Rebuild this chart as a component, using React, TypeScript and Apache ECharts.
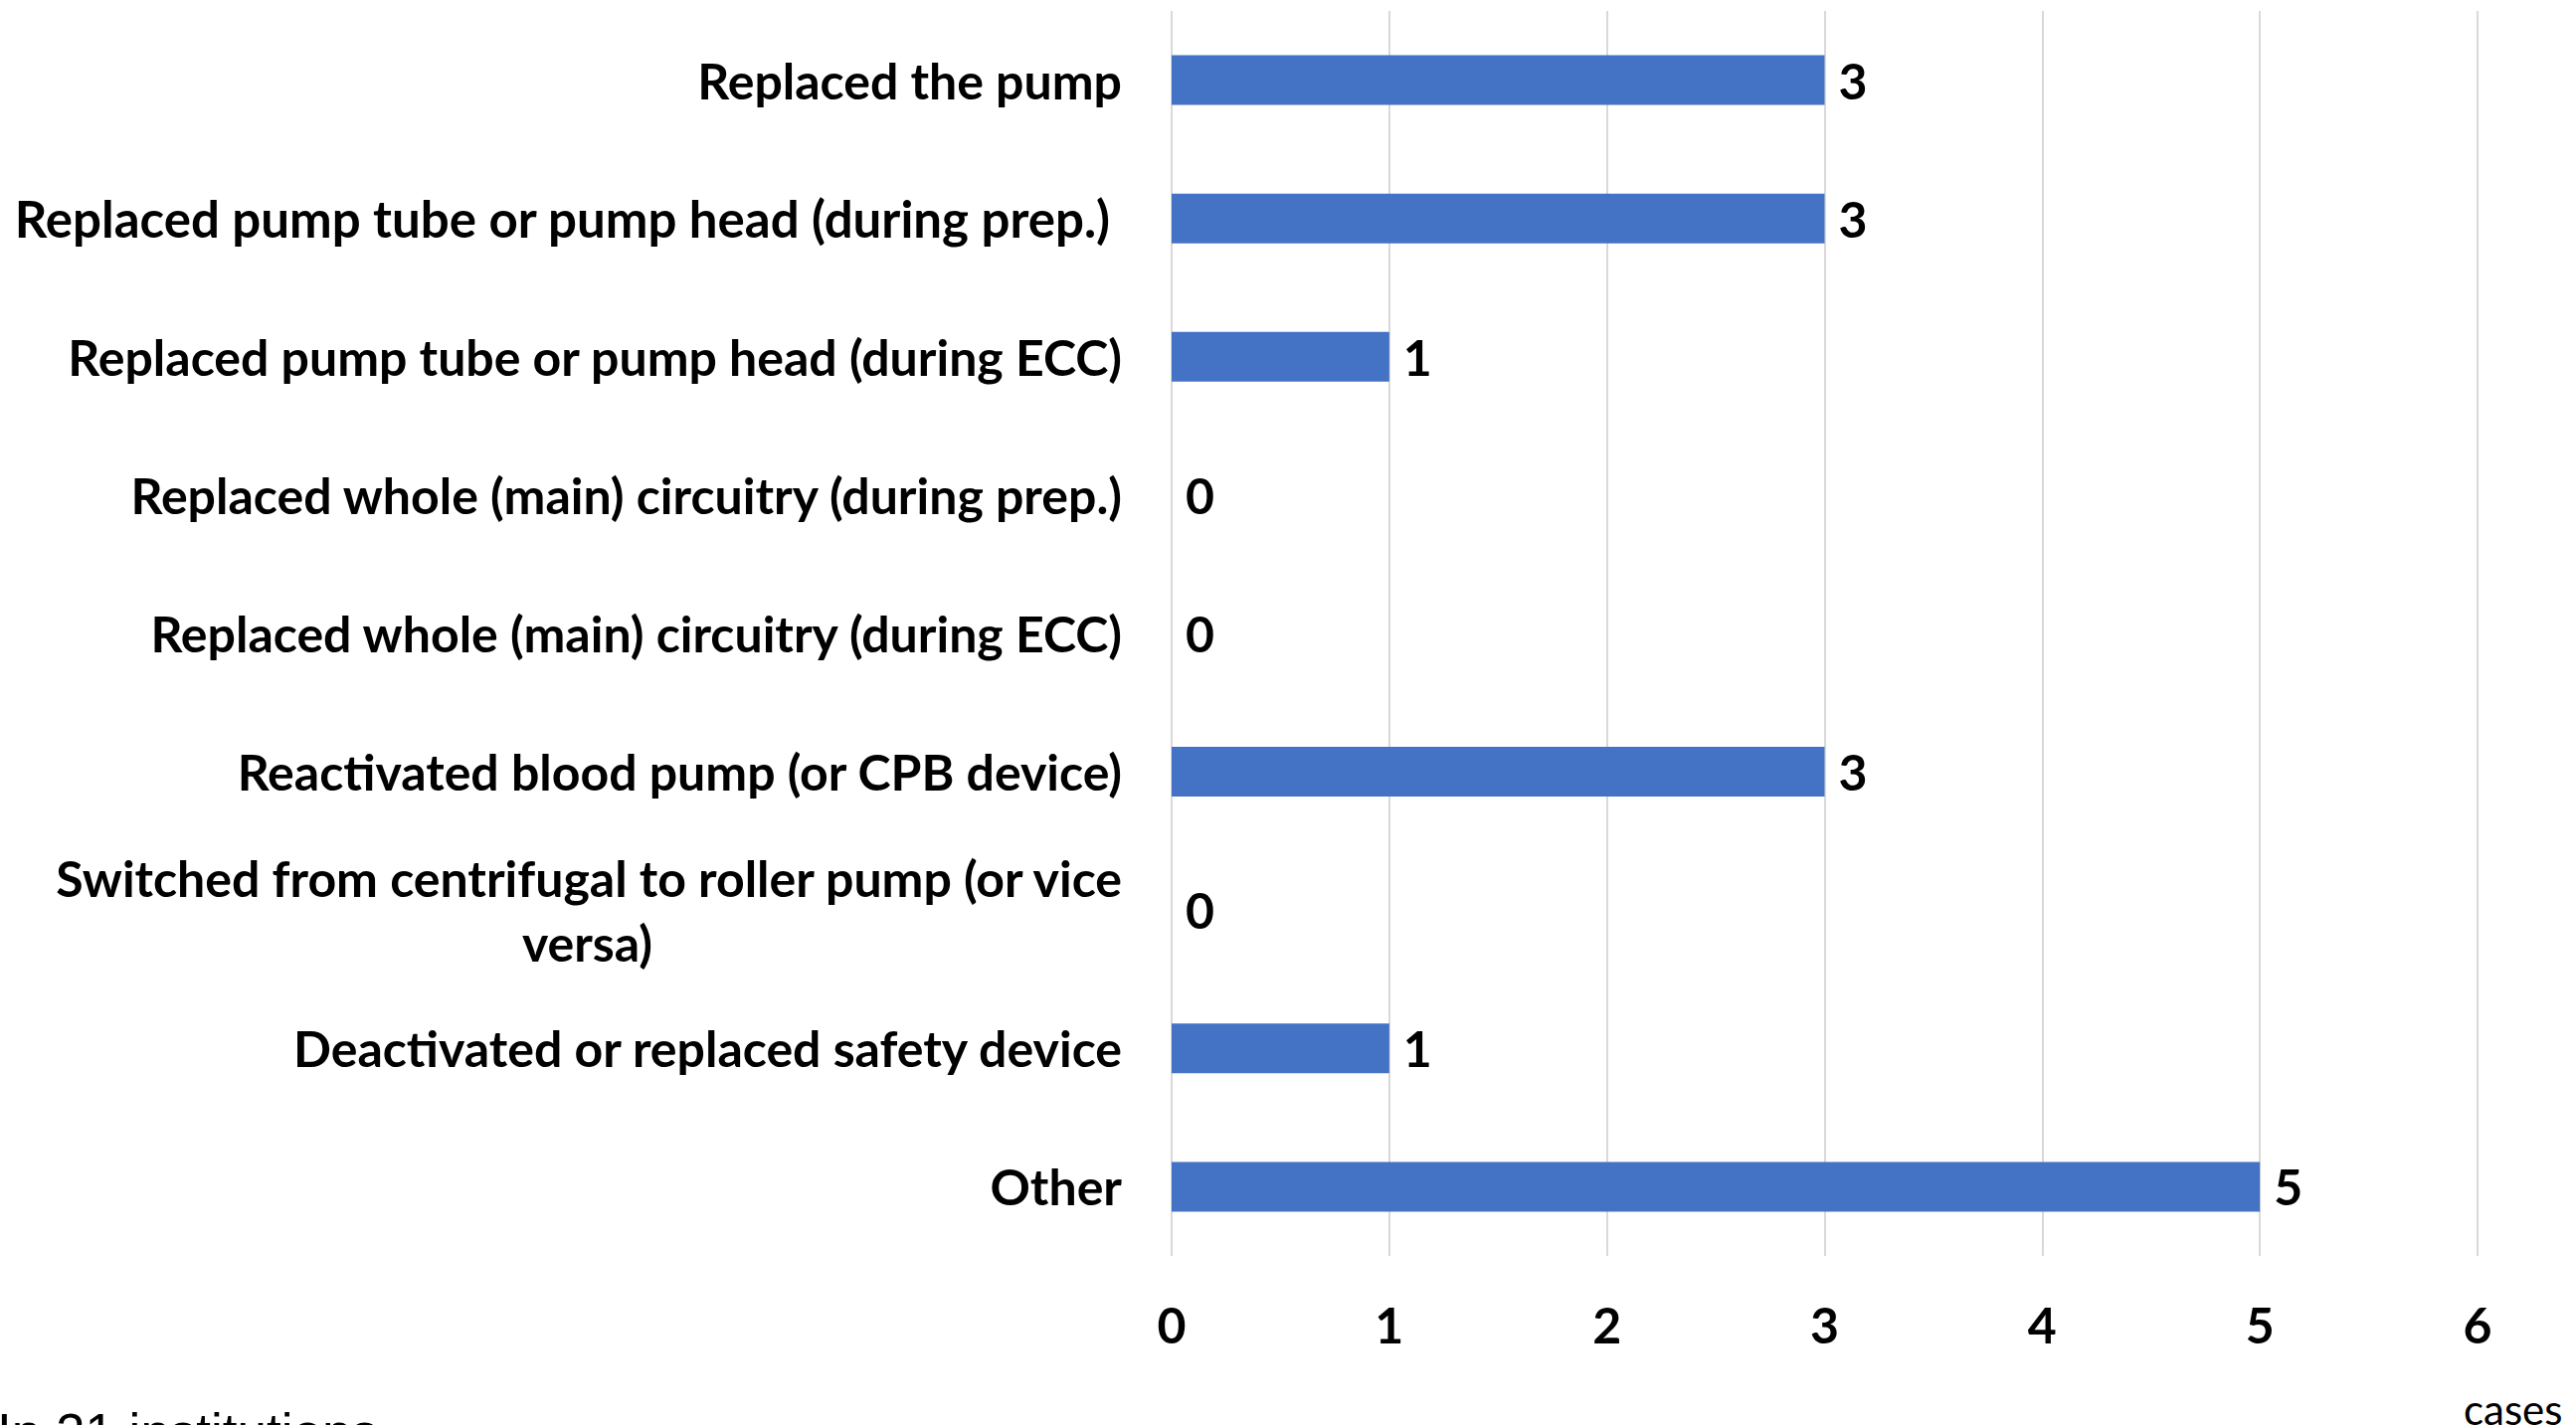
import React, { useEffect, useRef } from "react";
import * as echarts from "echarts";

const categories = [
  "Replaced the pump",
  "Replaced pump tube or pump head (during prep.)",
  "Replaced pump tube or pump head (during ECC)",
  "Replaced whole (main) circuitry (during prep.)",
  "Replaced whole (main) circuitry (during ECC)",
  "Reactivated blood pump (or CPB device)",
  "Switched from centrifugal to roller pump (or vice versa)",
  "Deactivated or replaced safety device",
  "Other",
];
const caseCounts = [3, 3, 1, 0, 0, 3, 0, 1, 5];
const xMin = 0;
const xMax = 6;
const xInterval = 1;
const footnote = "In 21 institutions";
const unitLabel = "cases";

const FONT = "Lato, 'Open Sans', sans-serif";
const FS = 50;

export default function App() {
  const ref = useRef<HTMLDivElement>(null);
  useEffect(() => {
    document.body.style.margin = "0";
    const chart = echarts.init(ref.current!, null, { renderer: "svg" });
    const base = { fontFamily: FONT, fontSize: FS, fontWeight: "bold", color: "#000" };
    chart.setOption({
      animation: false,
      backgroundColor: "#fff",
      grid: { left: 1178, right: 99, top: 11, bottom: 170, containLabel: false },
      xAxis: {
        type: "value",
        min: xMin,
        max: xMax,
        interval: xInterval,
        axisLine: { show: false },
        axisTick: { show: false },
        splitLine: { show: true, lineStyle: { color: "#d9d9d9", width: 2 } },
        axisLabel: { ...base, margin: 44 },
      },
      yAxis: {
        type: "category",
        data: categories,
        inverse: true,
        axisLine: { show: false },
        axisTick: { show: false },
        splitLine: { show: false },
        axisLabel: {
          ...base,
          margin: 50,
          align: "right",
          formatter: (v: string) => {
            if (v.startsWith("Switched")) {
              return "{a|Switched from centrifugal to roller pump (or vice}\n{c|versa)}";
            }
            if (v === "Replaced pump tube or pump head (during prep.)") {
              return "{p|" + v + "}";
            }
            return v;
          },
          rich: {
            a: { ...base, lineHeight: 65, align: "right" },
            c: { ...base, lineHeight: 65, align: "center" },
            p: { ...base, fontSize: 51, padding: [0, 12, 0, 0] },
          },
        },
      },
      series: [
        {
          type: "bar",
          data: caseCounts,
          barWidth: 50,
          itemStyle: { color: "#4472C4" },
          label: {
            show: true,
            position: "right",
            distance: 14,
            ...base,
          },
        },
      ],
      graphic: [
        {
          type: "text",
          left: 2477,
          top: 1396,
          style: { text: unitLabel, font: `42px ${FONT}`, fill: "#000" },
        },
        {
          type: "text",
          left: -3,
          top: 1414,
          style: { text: footnote, font: `53px 'Liberation Sans', Arial, sans-serif`, fill: "#000" },
        },
      ],
    });
    return () => chart.dispose();
  }, []);
  return (
    <div
      ref={ref}
      style={{ position: "absolute", left: 0, top: 0, width: 2590, height: 1433 }}
    />
  );
}
